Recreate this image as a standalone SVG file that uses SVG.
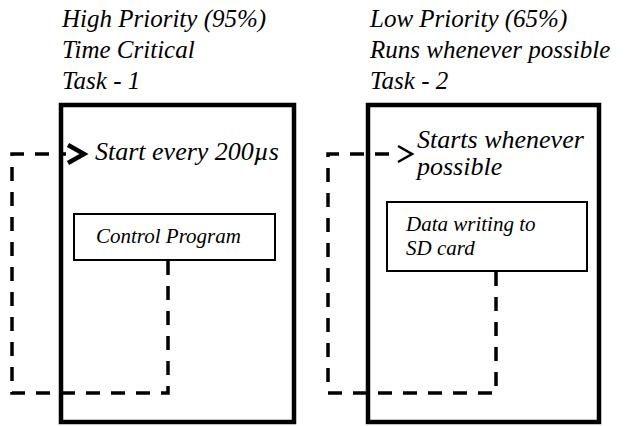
<svg xmlns="http://www.w3.org/2000/svg" width="630" height="426" viewBox="0 0 630 426" font-family="Liberation Serif, serif">
<defs>
<marker id="chevThick" markerUnits="userSpaceOnUse" refX="0" refY="0" markerWidth="30" markerHeight="30" orient="auto" overflow="visible">
<path d="M2,-9 L18,0 L2,9" fill="none" stroke="#000" stroke-width="4.5" stroke-linejoin="miter"/>
</marker>
<marker id="chevThin" markerUnits="userSpaceOnUse" refX="0" refY="0" markerWidth="30" markerHeight="30" orient="auto" overflow="visible">
<path d="M1,-8 L15,0 L1,8" fill="none" stroke="#000" stroke-width="2.5" stroke-linejoin="miter"/>
</marker>
</defs>
<rect width="630" height="426" fill="#fff"/>
<g id="task1" font-family="Liberation Serif, serif" font-style="italic" fill="#000">
<rect x="61" y="105" width="233" height="317" fill="none" stroke="#000" stroke-width="4.5"/>
<text x="62" y="27" font-size="25" style="font-family:'Liberation Serif',serif !important;font-style:italic !important">High Priority (95%)</text>
<text x="62" y="58" font-size="25" style="font-family:'Liberation Serif',serif !important;font-style:italic !important">Time Critical</text>
<text x="62" y="89" font-size="25" style="font-family:'Liberation Serif',serif !important;font-style:italic !important">Task - 1</text>
<text x="95" y="160" font-size="26" style="font-family:'Liberation Serif',serif !important;font-style:italic !important">Start every 200µs</text>
</g>
<g id="control" font-family="Liberation Serif, serif" font-style="italic" fill="#000">
<rect x="74" y="214" width="201" height="46" fill="#fff" stroke="#000" stroke-width="2"/>
<text x="96" y="243" font-size="21" style="font-family:'Liberation Serif',serif !important;font-style:italic !important">Control Program</text>
</g>
<g id="task2" font-family="Liberation Serif, serif" font-style="italic" fill="#000">
<rect x="368" y="105" width="231" height="317" fill="none" stroke="#000" stroke-width="4.5"/>
<text x="370" y="27" font-size="25" style="font-family:'Liberation Serif',serif !important;font-style:italic !important">Low Priority (65%)</text>
<text x="370" y="58" font-size="25" style="font-family:'Liberation Serif',serif !important;font-style:italic !important">Runs whenever possible</text>
<text x="370" y="89" font-size="25" style="font-family:'Liberation Serif',serif !important;font-style:italic !important">Task - 2</text>
<text x="417" y="148" font-size="26" style="font-family:'Liberation Serif',serif !important;font-style:italic !important">Starts whenever</text>
<text x="417" y="175" font-size="26" style="font-family:'Liberation Serif',serif !important;font-style:italic !important">possible</text>
</g>
<g id="datawrite" font-family="Liberation Serif, serif" font-style="italic" fill="#000">
<rect x="387" y="202" width="200" height="69" fill="#fff" stroke="#000" stroke-width="2"/>
<text x="406" y="231" font-size="21" style="font-family:'Liberation Serif',serif !important;font-style:italic !important">Data writing to</text>
<text x="406" y="255" font-size="21" style="font-family:'Liberation Serif',serif !important;font-style:italic !important">SD card</text>
</g>
<g id="connectors" fill="none" stroke="#000" stroke-width="3.5" stroke-dasharray="14 11">
<path d="M168,261 V393 H12 V154 H66" marker-end="url(#chevThick)"/>
<path d="M496,272 V393 H328 V154 H397" marker-end="url(#chevThin)"/>
</g>
</svg>
